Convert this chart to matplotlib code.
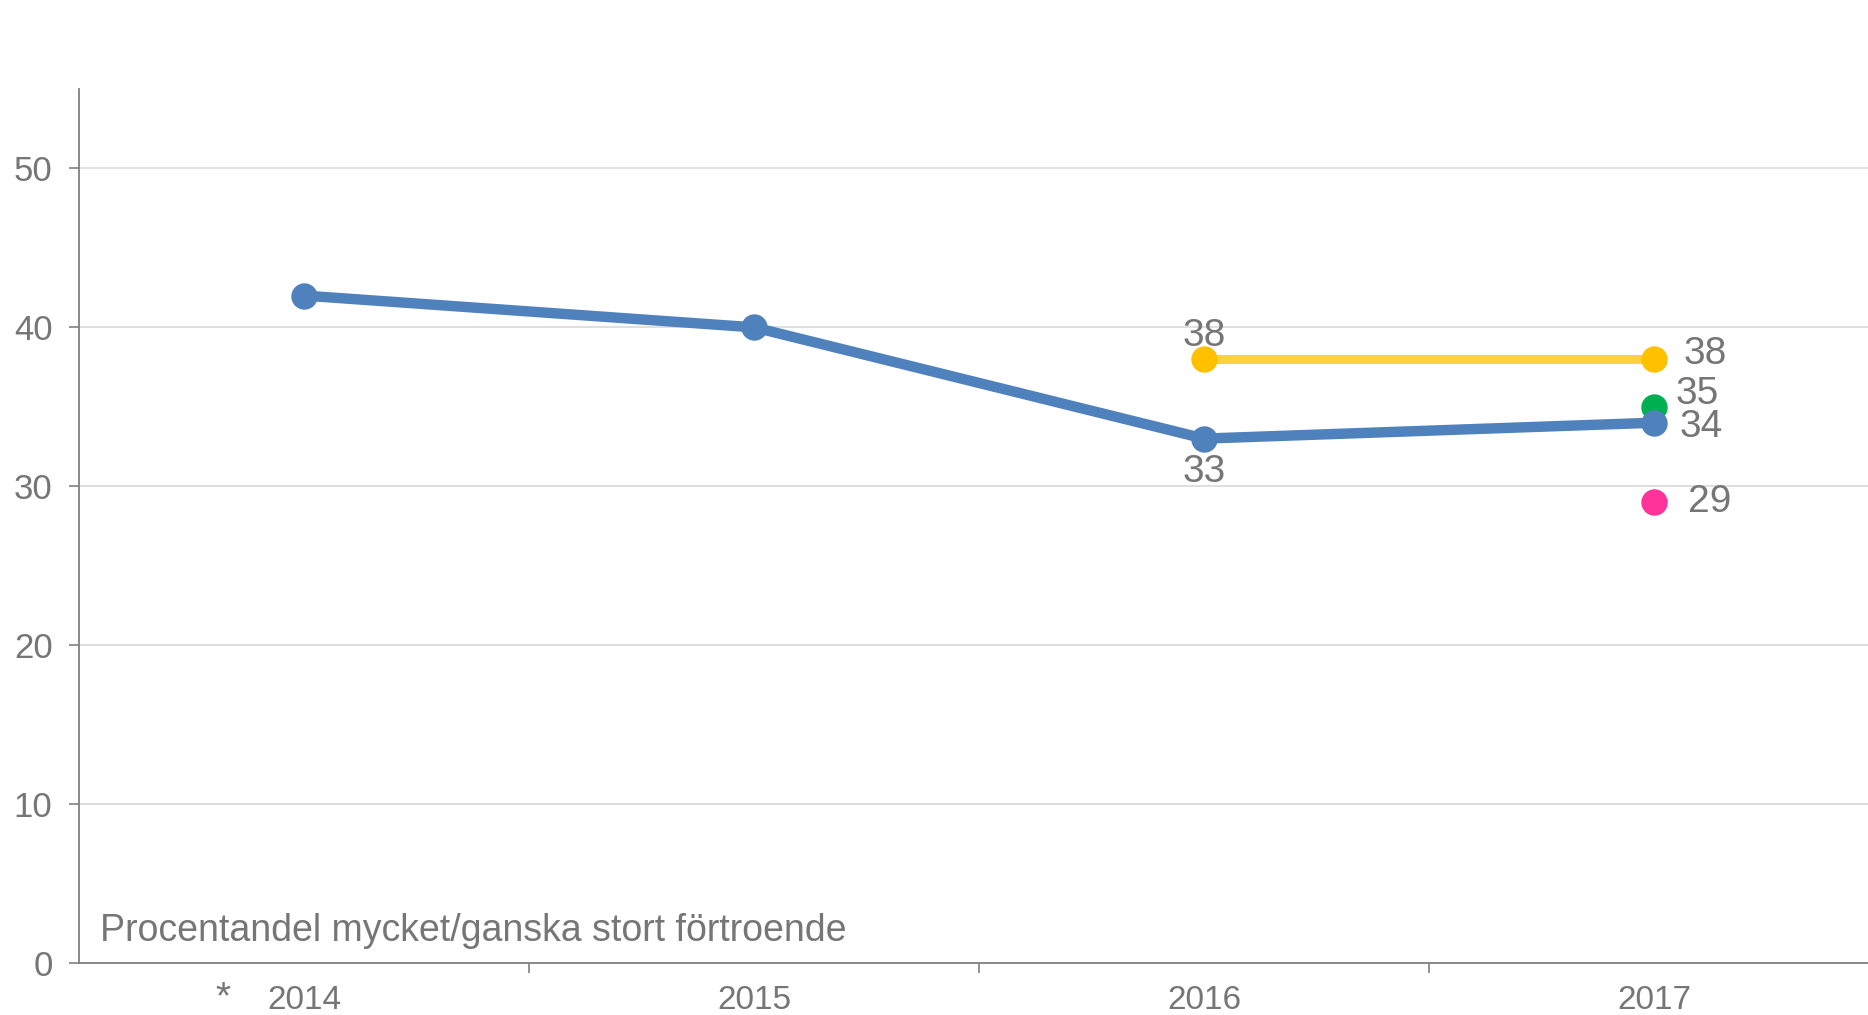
import matplotlib.pyplot as plt

plt.rcParams['font.family'] = ['Liberation Sans', 'DejaVu Sans']

years = ['2014', '2015', '2016', '2017']
blue = [42, 40, 33, 34]
yellow = [None, None, 38, 38]
green_2017 = 35
pink_2017 = 29

grey = '#767676'

fig = plt.figure(figsize=(18.68, 10.15), dpi=100)
ax = fig.add_axes([79 / 1868, 52 / 1015, 1 - 79 / 1868, (963 - 89) / 1015])

x = list(range(len(years)))

# grid
ax.set_ylim(0, 55)
ax.set_xlim(-0.5, 3.475)
ax.set_yticks([0, 10, 20, 30, 40, 50])
ax.yaxis.grid(True, color='#d9d9d9', linewidth=1.2)
ax.set_axisbelow(True)

# lines
ax.plot(x, blue, color='#4f81bd', linewidth=7.5, marker='o', markersize=19,
        markerfacecolor='#4f81bd', markeredgewidth=0, solid_capstyle='round', zorder=3)
xy = [(i, v) for i, v in zip(x, yellow) if v is not None]
ax.plot([p[0] for p in xy], [p[1] for p in xy], color='#ffd03f', linewidth=6.5, zorder=3)
ax.plot([p[0] for p in xy], [p[1] for p in xy], linestyle='none', marker='o', markersize=19,
        markerfacecolor='#ffc000', markeredgewidth=0, zorder=4)
ax.plot([3], [green_2017], linestyle='none', marker='o', markersize=19,
        markerfacecolor='#00b050', markeredgewidth=0, zorder=2.5)
ax.plot([3], [pink_2017], linestyle='none', marker='o', markersize=19,
        markerfacecolor='#ff3399', markeredgewidth=0, zorder=3)

# data labels
fs = 28
ax.annotate(str(yellow[2]), (2, yellow[2]), xytext=(0, 17), textcoords='offset points',
            ha='center', va='center', fontsize=fs, color=grey)
ax.annotate(str(blue[2]), (2, blue[2]), xytext=(0, -24), textcoords='offset points',
            ha='center', va='center', fontsize=fs, color=grey)
ax.annotate(str(yellow[3]), (3, yellow[3]), xytext=(21, 4), textcoords='offset points',
            ha='left', va='center', fontsize=fs, color=grey)
ax.annotate(str(green_2017), (3, green_2017), xytext=(15, 9), textcoords='offset points',
            ha='left', va='center', fontsize=fs, color=grey)
ax.annotate(str(blue[3]), (3, blue[3]), xytext=(18, -3), textcoords='offset points',
            ha='left', va='center', fontsize=fs, color=grey)
ax.annotate(str(pink_2017), (3, pink_2017), xytext=(24, 0), textcoords='offset points',
            ha='left', va='center', fontsize=fs, color=grey)

# axes styling
for s in ['top', 'right']:
    ax.spines[s].set_visible(False)
for s in ['left', 'bottom']:
    ax.spines[s].set_color('#808080')
    ax.spines[s].set_linewidth(1.3)

ax.set_xticks([0.5, 1.5, 2.5])
ax.set_xticklabels([])
ax.set_xticks(x, minor=True)
ax.set_xticklabels(years, minor=True)
ax.tick_params(axis='x', which='major', length=7, width=1.2, color='#808080')
ax.tick_params(axis='x', which='minor', length=0, pad=16, labelsize=24, labelcolor=grey)
ax.tick_params(axis='y', length=7, width=1.2, color='#808080', labelsize=25, labelcolor=grey, pad=12)

ax.text(0.012, 1.4, 'Procentandel mycket/ganska stort förtroende',
        transform=ax.get_yaxis_transform(), fontsize=27, color=grey, ha='left', va='baseline')
fig.text(223 / 1868, 1 - 998 / 1015, '*', fontsize=28, color=grey, ha='center', va='center')

plt.savefig('out.png', dpi=100)
